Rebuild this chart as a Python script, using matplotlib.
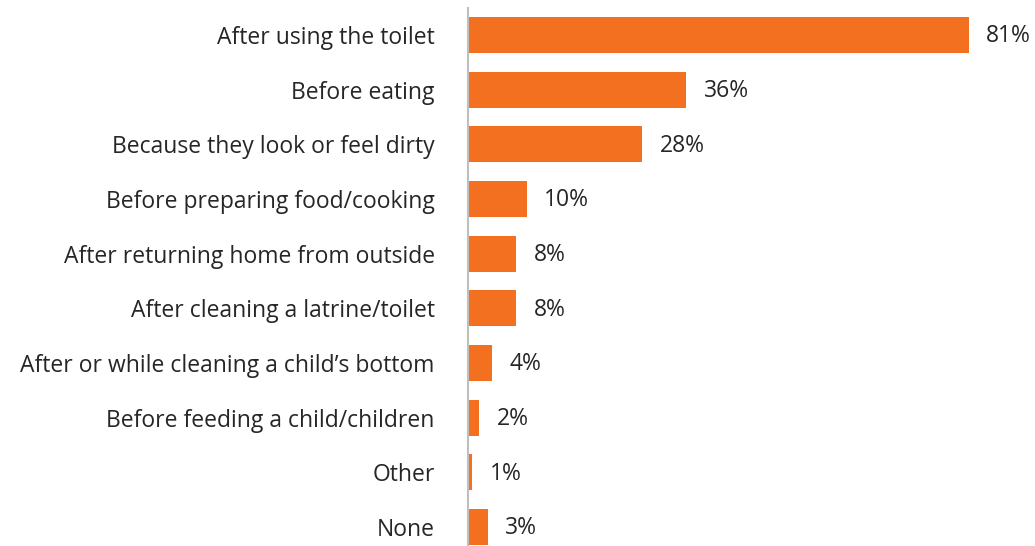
import matplotlib.pyplot as plt

# Reasons for handwashing (share of respondents, %)
reasons = ['After using the toilet', 'Before eating', 'Because they look or feel dirty',
           'Before preparing food/cooking', 'After returning home from outside',
           'After cleaning a latrine/toilet', 'After or while cleaning a child\u2019s bottom',
           'Before feeding a child/children', 'Other', 'None']
values = [81, 35.3, 28.2, 9.5, 7.8, 7.8, 3.9, 1.8, 0.7, 3.2]
labels = ['81%', '36%', '28%', '10%', '8%', '8%', '4%', '2%', '1%', '3%']

plt.rcParams['font.family'] = ['Open Sans', 'DejaVu Sans']

fig = plt.figure(figsize=(10.35, 5.46), dpi=100)
ax = fig.add_axes([468 / 1035, 0, (969 - 468) / 1035, 1 - 8 / 546])

pos = list(range(len(reasons)))
ax.barh(pos, values, height=0.66, color='#F37021')
ax.set_xlim(0, 81)
ax.set_ylim(9.35, -0.494)

for p, v, lab in zip(pos, values, labels):
    ax.annotate(lab, (v, p), xytext=(12.5, -1), textcoords='offset points',
                va='center', ha='left', fontsize=16.5, color='#262626')

ax.set_yticks(pos)
ax.set_yticklabels(reasons, fontsize=16.5, color='#262626')
ax.tick_params(axis='y', length=0, pad=24)
ax.set_xticks([])

for s in ['top', 'right', 'bottom']:
    ax.spines[s].set_visible(False)
ax.spines['left'].set_color('#BFBFBF')
ax.spines['left'].set_linewidth(1.5)

fig.savefig('out.png', dpi=100)
